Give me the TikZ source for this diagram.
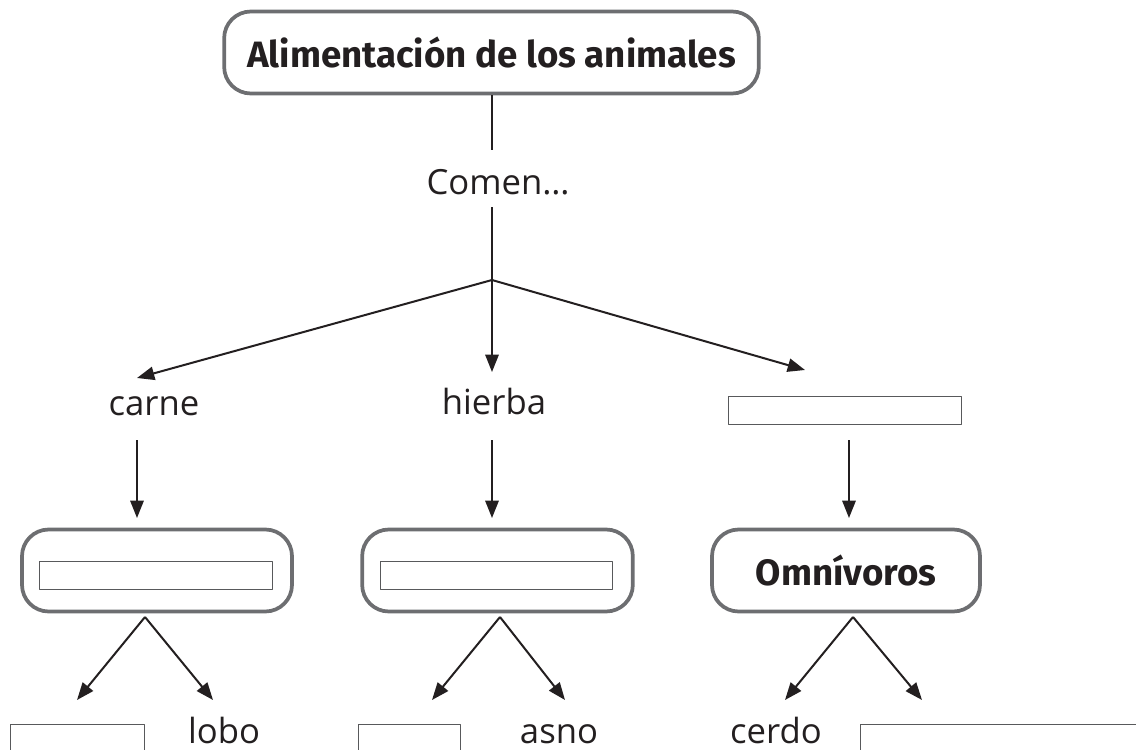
\documentclass[tikz,border=0pt]{standalone}
\usepackage{fontspec}
\setmainfont{Open Sans}
\newfontfamily\titlefont{Fira Sans}
\usetikzlibrary{arrows.meta}
\definecolor{boxgray}{HTML}{6D6E71}
\definecolor{ink}{HTML}{231F20}
\definecolor{thingray}{HTML}{58595B}
\begin{document}
\begin{tikzpicture}[x=0.75pt,y=-0.75pt,line join=round]
\useasboundingbox (0,0) rectangle (1136,750);
\clip (0,0) rectangle (1136,750);
\tikzset{
  gbox/.style={draw=boxgray, line width=2.8pt, rounded corners=20pt, inner sep=0pt, minimum height=61.5pt},
  blank/.style={draw=thingray, line width=0.9pt, inner sep=0pt, minimum height=20.5pt},
  lbl/.style={font=\fontsize{26}{30}\selectfont, text=ink, anchor=base, inner sep=0pt},
  ttl/.style={font=\titlefont\bfseries\fontsize{27.5}{32}\selectfont, text=ink},
  link/.style={draw=ink, line width=1.5pt},
  arr/.style={link, -{Triangle[length=13pt,width=10pt]}}
}
% title
\node[gbox, minimum width=401pt, ttl] (title) at (491.5,52.5) {Alimentación de los animales};
\node[lbl] (comen) at (498,194) {Comen…};
\coordinate (j) at (492,280);
\draw[link] (title.south -| j) -- (492,150) coordinate (c1);
\draw[link] (492,207) coordinate (c2) -- (j);
% level 2
\coordinate (t1) at (137,378);
\coordinate (t2) at (492,372);
\coordinate (t3) at (805,370);
\draw[arr] (j) -- (t1);
\draw[arr] (j) -- (t2);
\draw[arr] (j) -- (t3);
\node[lbl] (carne) at (154,415) {carne};
\node[lbl] (hierba) at (494,414) {hierba};
\node[blank, minimum width=175pt] (b3) at (845,410.5) {};
% arrows down
\coordinate (d1s) at (137,440); \coordinate (d1e) at (137,518);
\coordinate (d2s) at (492,440); \coordinate (d2e) at (492,518);
\coordinate (d3s) at (849,440); \coordinate (d3e) at (849,518);
\draw[arr] (d1s) -- (d1e);
\draw[arr] (d2s) -- (d2e);
\draw[arr] (d3s) -- (d3e);
% boxes
\node[gbox, minimum width=202.5pt] (g1) at (157,570.5) {};
\node[gbox, minimum width=203pt] (g2) at (497.5,570.5) {};
\node[gbox, minimum width=201pt, ttl] (g3) at (846,570.5) {Omnívoros};
\node[blank, minimum width=174.5pt] (i1) at (156,575.5) {};
\node[blank, minimum width=174.5pt] (i2) at (496.5,575.5) {};
% branches
\coordinate (a1) at (145,617); \coordinate (a2) at (500,617); \coordinate (a3) at (853,617);
\coordinate (l1) at (77,700); \coordinate (r1) at (213,700);
\coordinate (l2) at (432,700); \coordinate (r2) at (565,700);
\coordinate (l3) at (785,700); \coordinate (r3) at (922,700);
\draw[arr] (a1) -- (l1); \draw[arr] (a1) -- (r1);
\draw[arr] (a2) -- (l2); \draw[arr] (a2) -- (r2);
\draw[arr] (a3) -- (l3); \draw[arr] (a3) -- (r3);
% bottom row
\node[blank, minimum width=100.5pt, minimum height=30pt, anchor=north west] (e1) at (9.5,723.5) {};
\node[lbl] (lobo) at (224,743) {lobo};
\node[blank, minimum width=77pt, minimum height=30pt, anchor=north west] (e2) at (357.5,723.5) {};
\node[lbl] (asno) at (559,743) {asno};
\node[lbl] (cerdo) at (776,743) {cerdo};
\node[blank, minimum width=215pt, minimum height=30pt, anchor=north west] (e3) at (860,723.5) {};
\end{tikzpicture}
\end{document}
